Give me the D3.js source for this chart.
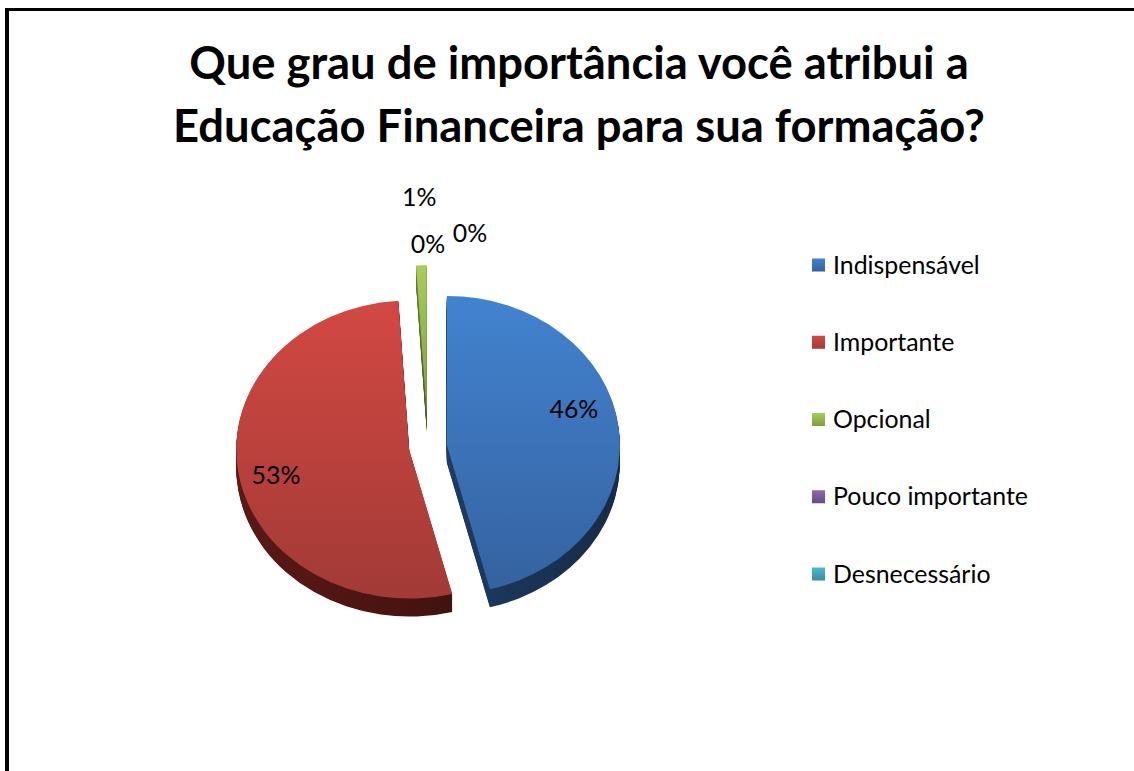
<!DOCTYPE html>
<html>
<head>
<meta charset="utf-8">
<script src="https://cdn.jsdelivr.net/npm/d3@7"></script>
<style>
  body { margin: 0; background: #fff; }
  svg { display: block; font-family: Lato, "Open Sans", sans-serif; }
</style>
</head>
<body>
<svg id="chart" width="1134" height="771"></svg>
<script>
// data
var categories = ['Indispensável', 'Importante', 'Opcional', 'Pouco importante', 'Desnecessário'];
var values = [46, 53, 1, 0, 0];
var labels = ['46%', '53%', '1%', '0%', '0%'];
var titleLines = ['Que grau de importância você atribui a', 'Educação Financeira para sua formação?'];

// colours (top face gradient + side)
var topLight = ['#4283d0', '#d34843', '#a8cd5c', '#8a6cb0', '#4fb8d4'];
var topDark = ['#3562a0', '#a23a36', '#7f9d3f', '#644c85', '#3a8aa0'];
var sideCol = ['#18304f', '#4a1412', '#4f6228', '#3f3152', '#205869'];

//create a namespace for pie vars
var pie = {
  cx: 428,
  cy: 447,
  rx: 173,
  ry: 149,
  depth: 18
};
pie.k = pie.ry / pie.rx;

// explode distance per slice
var explode = [19, 19, 38, 19, 19];

// label tweaks: radius factor and nudge
var labelR = [0.74, 0.78, 1.2, 1.2, 1.2];
var labelNudge = [[0, -22], [0, 8], [-1, -38], [0, -8], [42, -19]];

var svg = d3.select('#chart');
var defs = svg.append('defs');

// frame lines
svg.append('line').attr('x1', 5).attr('x2', 1134).attr('y1', 9.5).attr('y2', 9.5)
  .attr('stroke', '#000').attr('stroke-width', 3);
svg.append('line').attr('x1', 7).attr('x2', 7).attr('y1', 8).attr('y2', 771)
  .attr('stroke', '#000').attr('stroke-width', 4);

// gradients
categories.forEach(function(c, i) {
  var g = defs.append('linearGradient').attr('id', 'top' + i)
    .attr('x1', 0).attr('y1', 0).attr('x2', 0).attr('y2', 1);
  g.append('stop').attr('offset', '0%').attr('stop-color', topLight[i]);
  g.append('stop').attr('offset', '100%').attr('stop-color', topDark[i]);

  var s = defs.append('linearGradient').attr('id', 'side' + i)
    .attr('x1', 0).attr('y1', 0).attr('x2', 1).attr('y2', 0);
  s.append('stop').attr('offset', '0%').attr('stop-color', d3.color(sideCol[i]).brighter(0.6));
  s.append('stop').attr('offset', '100%').attr('stop-color', d3.color(sideCol[i]).darker(0.3));
});

//title
var title = svg.append('g').attr('class', 'title');
titleLines.forEach(function(t, i) {
  title.append('text')
    .attr('x', 579)
    .attr('y', 79 + i * 63)
    .attr('text-anchor', 'middle')
    .style('font-weight', 'bold')
    .style('font-size', '40px')
    .text(t);
});
// fit title size to the width of the second line
var tw = title.selectAll('text').nodes()[1].getComputedTextLength();
title.selectAll('text').style('font-size', (40 * 812 / tw) + 'px');

//-----------------------------------------------------pie START
var pieGen = d3.pie().sort(null).startAngle(0).endAngle(2 * Math.PI).value(function(d) { return d; });
var arcs = pieGen(values);

var arcGen = d3.arc().innerRadius(0).outerRadius(pie.rx);

function offsetOf(d, i) {
  var mid = (d.startAngle + d.endAngle) / 2;
  return [explode[i] * Math.sin(mid), -explode[i] * Math.cos(mid)];
}

var pieG = svg.append('g').attr('class', 'pie');

arcs.forEach(function(d, i) {
  if (d.value === 0) return;
  var off = offsetOf(d, i);
  var sg = pieG.append('g').attr('class', 'slice-' + i);

  //stacked side layers
  for (var z = pie.depth; z >= 1; z--) {
    sg.append('g')
      .attr('transform', 'translate(' + pie.cx + ',' + (pie.cy + z) + ') scale(1,' + pie.k + ')')
      .append('path')
      .attr('d', arcGen(d))
      .attr('transform', 'translate(' + off[0] + ',' + off[1] + ')')
      .style('fill', 'url(#side' + i + ')');
  }

  //top face
  sg.append('g')
    .attr('transform', 'translate(' + pie.cx + ',' + pie.cy + ') scale(1,' + pie.k + ')')
    .append('path')
    .attr('d', arcGen(d))
    .attr('transform', 'translate(' + off[0] + ',' + off[1] + ')')
    .style('fill', 'url(#top' + i + ')');
});

//labels
arcs.forEach(function(d, i) {
  var off = offsetOf(d, i);
  var mid = (d.startAngle + d.endAngle) / 2;
  var x = pie.cx + off[0] + Math.sin(mid) * pie.rx * labelR[i];
  var y = pie.cy + (off[1] - Math.cos(mid) * pie.rx * labelR[i]) * pie.k;
  pieG.append('text')
    .attr('class', 'pct-label')
    .attr('x', x + labelNudge[i][0])
    .attr('y', y + labelNudge[i][1])
    .attr('dy', '0.35em')
    .attr('text-anchor', 'middle')
    .style('font-size', '22px')
    .style('fill', '#000')
    .text(labels[i]);
});
//-----------------------------------------------------pie END

//-----------------------------------------------------legend START
var legend = svg.append('g').attr('class', 'legend');
var rowY = d3.scalePoint().domain(categories).range([265, 574]);

var items = legend.selectAll('.item')
  .data(categories)
  .enter().append('g')
  .attr('class', 'item')
  .attr('transform', function(d) { return 'translate(812,' + rowY(d) + ')'; });

items.append('rect')
  .attr('x', 0).attr('y', -6.5)
  .attr('width', 13).attr('height', 13)
  .style('fill', function(d, i) { return 'url(#top' + i + ')'; });

items.append('text')
  .attr('x', 21)
  .attr('dy', '0.35em')
  .style('font-size', '22px')
  .text(function(d) { return d; });

// fit legend font to the longest item
var lw = items.selectAll('text').nodes()[3].getComputedTextLength();
var fs = 22 * 195 / lw;
items.selectAll('text').style('font-size', fs + 'px');
pieG.selectAll('.pct-label').style('font-size', fs + 'px');
//-----------------------------------------------------legend END
</script>
</body>
</html>
